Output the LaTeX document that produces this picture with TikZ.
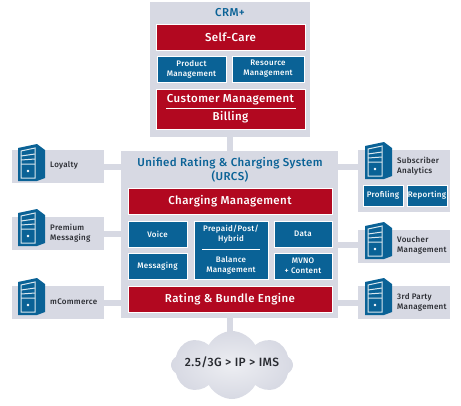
\documentclass[tikz,border=0pt]{standalone}
\usepackage{fontspec}
\setmainfont[LetterSpace=3.5]{Fira Sans Medium}
\usetikzlibrary{positioning, shapes.symbols}
\definecolor{crmRed}{RGB}{178,8,32}
\definecolor{crmBlue}{RGB}{10,98,150}
\definecolor{crmGrey}{RGB}{215,217,227}
\definecolor{crmText}{RGB}{40,42,48}

\tikzset{
  srvicon/.pic={
    \fill[crmBlue] (0,4) -- (19,0) -- (27,6) -- (27,34) -- (19,37) -- (0,37) -- cycle;
    \draw[white!85!crmBlue, line width=1pt] (3,7) -- (17,4) -- (17,34) -- (3,34) -- cycle;
    \draw[white!85!crmBlue, line width=1pt] (3,12) -- (17,10) (3,16) -- (17,15) (3,20) -- (17,20);
    \fill[white] (10,27) circle (1.4);
  }
}

\begin{document}
\begin{tikzpicture}[
    x=1pt, y=-1pt,
    font=\fontsize{8}{10}\selectfont,
    panel/.style={fill=crmGrey, minimum width=#1, inner sep=0pt, outer sep=0pt},
    redbox/.style={fill=crmRed, text=white, draw=white, line width=0.6pt, align=center, inner sep=0pt,
                   outer sep=0pt, font=\fontsize{11.5}{13}\selectfont},
    bluebox/.style={fill=crmBlue, text=white, draw=white, line width=0.6pt, align=center, inner sep=0pt,
                    outer sep=0pt, font=\fontsize{8}{10}\selectfont},
    side/.style={fill=crmGrey, anchor=north west, minimum width=92pt, minimum height=33pt, inner sep=0pt, outer sep=0pt},
    lbl/.style={anchor=west, align=left, text=crmText, inner sep=0pt, font=\fontsize{8}{10}\selectfont},
    title/.style={text=crmBlue, align=center, inner sep=0pt, font=\fontsize{11.5}{14}\selectfont},
    link/.style={crmGrey, line width=6pt},
  ]
    \useasboundingbox (0,0) rectangle (461,405);

    % connectors go first, under the panels
    \coordinate (crmfoot) at (230,136);
    \coordinate (urcshead) at (230,152);
    \coordinate (urcsfoot) at (230,317);
    \coordinate (cloudhead) at (230,340);
    \draw[link] (crmfoot) -- (urcshead);
    \draw[link] (urcsfoot) -- (cloudhead);

    % CRM
    \node[panel=160pt, minimum height=135pt, anchor=north west] (crm) at (150,2) {};
    \node[title] (crmtitle) at (230,13) {CRM+};
    \node[redbox, minimum width=149pt, minimum height=26pt, anchor=north west] (selfcare) at (156,24) {Self-Care};
    \node[bluebox, minimum width=69pt, minimum height=26pt, anchor=north west] (product) at (157,56) {Product\\Management};
    \node[bluebox, minimum width=72pt, minimum height=26pt, right=6pt of product] (resource) {Resource\\Management};
    \node[redbox, minimum width=149pt, minimum height=40pt, anchor=north west] (custbill) at (156,89)
      {Customer Management\\[5pt]Billing};
    \coordinate (rulea) at (166,108);
    \coordinate (ruleb) at (296,108);
    \draw[white, line width=0.7pt] (rulea) -- (ruleb);

    % URCS
    \node[panel=217pt, minimum height=167pt, anchor=north west] (urcs) at (121,151) {};
    \node[title] (urcstitle) at (230,170) {Unified Rating \& Charging System\\(URCS)};
    \node[redbox, minimum width=204pt, minimum height=26pt, anchor=north west] (charging) at (128,188) {Charging Management};
    \node[bluebox, minimum width=59pt, minimum height=26pt, anchor=north west] (voice) at (128,221) {Voice};
    \node[bluebox, minimum width=59pt, minimum height=26pt, below=6pt of voice] (messaging) {Messaging};
    \node[bluebox, minimum width=74pt, minimum height=58pt, anchor=north west] (prepaid) at (194,221)
      {Prepaid/Post/\\Hybrid\\[11pt]Balance\\Management};
    \coordinate (rulec) at (202,249);
    \coordinate (ruled) at (260,249);
    \draw[white, line width=0.7pt] (rulec) -- (ruled);
    \node[bluebox, minimum width=58pt, minimum height=26pt, anchor=north west] (data) at (274,221) {Data};
    \node[bluebox, minimum width=58pt, minimum height=26pt, below=6pt of data] (mvno) {MVNO\\+ Content};
    \node[redbox, minimum width=204pt, minimum height=26pt, anchor=north west] (rating) at (128,286) {Rating \& Bundle Engine};

    % left side
    \node[side] (loyalty) at (12,150) {};
    \node[side, below=34pt of loyalty] (premium) {};
    \node[side, below=36pt of premium] (mcommerce) {};
    \draw[link] (loyalty.east |- 0,167) -- (urcs.west |- 0,167);
    \draw[link] (premium.east |- 0,234) -- (urcs.west |- 0,234);
    \draw[link] (mcommerce.east |- 0,303) -- (urcs.west |- 0,303);
    \pic at (18,144) {srvicon};
    \pic at (18,209) {srvicon};
    \pic at (18,278) {srvicon};
    \node[lbl] (loyaltytxt) at (50,165) {Loyalty};
    \node[lbl] (premiumtxt) at (50,233) {Premium\\Messaging};
    \node[lbl] (mcommercetxt) at (50,302) {mCommerce};

    % right side
    \node[side, minimum height=62pt] (subscriber) at (358,150) {};
    \node[side, below=18pt of subscriber] (voucher) {};
    \node[side, below=23pt of voucher] (thirdparty) {};
    \draw[link] (urcs.east |- 0,167) -- (subscriber.west |- 0,167);
    \draw[link] (urcs.east |- 0,245) -- (voucher.west |- 0,245);
    \draw[link] (urcs.east |- 0,303) -- (thirdparty.west |- 0,303);
    \pic at (365,142) {srvicon};
    \pic at (365,222) {srvicon};
    \pic at (365,278) {srvicon};
    \node[lbl] (subscribertxt) at (397,166) {Subscriber\\Analytics};
    \node[lbl] (vouchertxt) at (397,245) {Voucher\\Management};
    \node[lbl] (thirdpartytxt) at (397,302) {3rd Party\\Management};
    \node[bluebox, minimum width=40pt, minimum height=21pt, anchor=north west] (profiling) at (363,185) {Profiling};
    \node[bluebox, minimum width=40pt, minimum height=21pt, right=4pt of profiling] (reporting) {Reporting};

    % network
    \node[cloud, cloud puffs=8, cloud puff arc=125, aspect=1.8, minimum width=122pt, minimum height=68pt,
          inner sep=0pt, outer sep=0pt, inner color=crmGrey!45, outer color=crmGrey] (network) at (232,365) {};
    \node[text=crmText, inner sep=0pt, font=\fontsize{12}{14}\selectfont] (networktxt) at (232,362) {2.5/3G > IP > IMS};
\end{tikzpicture}
\end{document}
